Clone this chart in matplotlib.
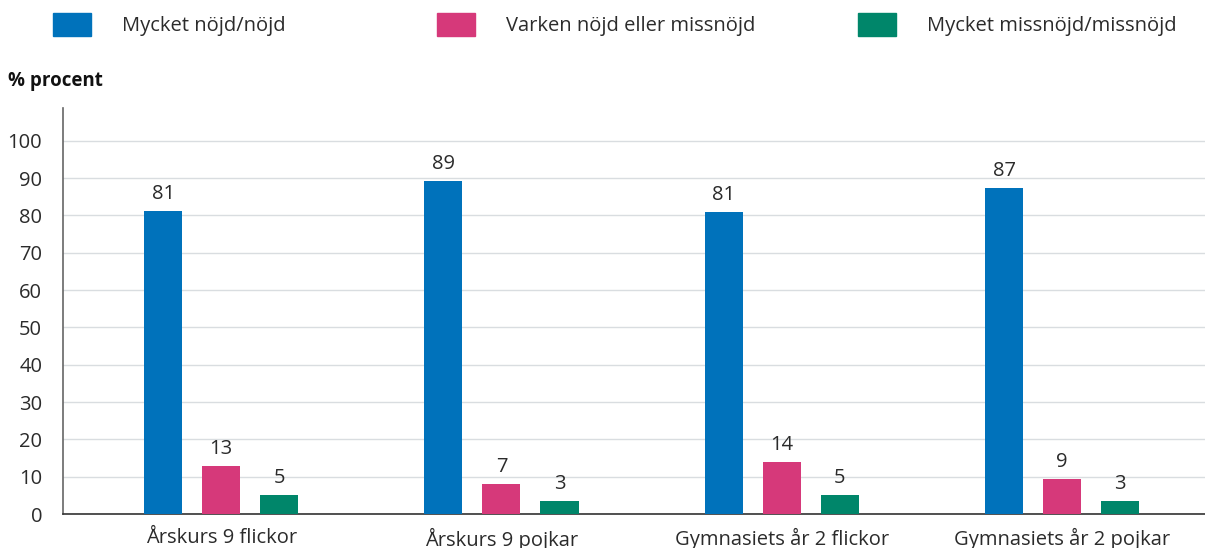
import matplotlib
matplotlib.use("Agg")
import matplotlib.pyplot as plt
from matplotlib.patches import Rectangle
import numpy as np

categories = ["Årskurs 9 flickor", "Årskurs 9 pojkar", "Gymnasiets år 2 flickor", "Gymnasiets år 2 pojkar"]
series_names = ["Mycket nöjd/nöjd", "Varken nöjd eller missnöjd", "Mycket missnöjd/missnöjd"]
nojd = [81.2, 89.3, 81.0, 87.4]
varken = [12.9, 8.0, 13.9, 9.4]
missnojd = [5.1, 3.5, 5.1, 3.5]
nojd_labels = ["81", "89", "81", "87"]
varken_labels = ["13", "7", "14", "9"]
missnojd_labels = ["5", "3", "5", "3"]
yticks = [0, 10, 20, 30, 40, 50, 60, 70, 80, 90, 100]

colors = ["#0072bb", "#d6397a", "#00866a"]
textcol = "#2b2b2b"
fs = 14.5
plt.rcParams["font.family"] = ["Open Sans", "DejaVu Sans"]

fig = plt.figure(figsize=(12.05, 5.48), dpi=100)
ax = fig.add_axes([0.0523, 0.062, 0.9477, 0.741])

x = np.arange(len(categories))
w = 0.136
off = 0.207
for i, (vals, labs) in enumerate([(nojd, nojd_labels), (varken, varken_labels), (missnojd, missnojd_labels)]):
	xs = x + (i - 1) * off
	ax.bar(xs, vals, width=w, color=colors[i], zorder=3)
	for xx, v, l in zip(xs, vals, labs):
		ax.annotate(l, (xx, v), xytext=(0, 5), textcoords="offset points",
			ha="center", va="bottom", fontsize=fs, color=textcol)

ax.set_xlim(-0.564, 3.51)
ax.set_ylim(0, 108.8)
ax.set_yticks(yticks)
ax.set_xticks(x)
ax.set_xticklabels(categories)
ax.tick_params(axis="y", length=0, pad=15, labelsize=fs, labelcolor=textcol)
ax.tick_params(axis="x", length=0, pad=10, labelsize=fs, labelcolor=textcol)
ax.grid(axis="y", color="#d9dde0", linewidth=1, zorder=0)
for s in ["top", "right"]:
	ax.spines[s].set_visible(False)
ax.spines["left"].set_color("#666666")
ax.spines["bottom"].set_color("#333333")
ax.spines["left"].set_linewidth(1.2)
ax.spines["bottom"].set_linewidth(1.2)

fig.text(8 / 1205, 1 - 81 / 548, "% procent", fontsize=13.5, fontweight="bold", color="#111111", va="center")

# legend drawn by hand
swatch_x = [53, 437, 858]
for sx, name, c in zip(swatch_x, series_names, colors):
	fig.add_artist(Rectangle((sx / 1205, 1 - 36 / 548), 38 / 1205, 23 / 548,
		transform=fig.transFigure, color=c))
	fig.text((sx + 69) / 1205, 1 - 25.5 / 548, name, fontsize=fs, color=textcol, va="center")

plt.savefig("out.png", dpi=100)
